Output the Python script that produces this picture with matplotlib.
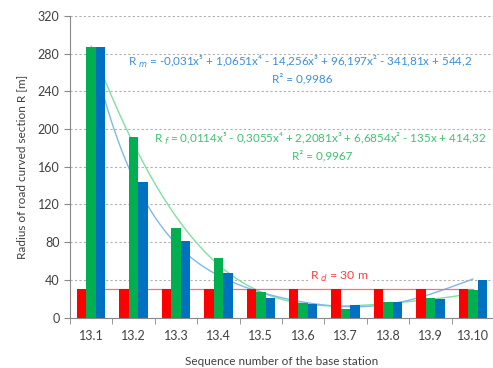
import matplotlib.pyplot as plt
import numpy as np

plt.rcParams['font.family'] = ['Lato', 'DejaVu Sans']

####################
stations = ['13.1', '13.2', '13.3', '13.4', '13.5', '13.6', '13.7', '13.8', '13.9', '13.10']
r_d = [30, 30, 30, 30, 30, 30, 30, 30, 30, 30]
r_f = [287, 191, 95, 63, 27, 15, 9, 17, 21, 29]
r_m = [287, 144, 81, 47, 21, 14, 13, 16, 20, 40]

# trend line coefficients, highest power first
coef_m = [-0.031, 1.0651, -14.256, 96.197, -341.81, 544.2]
coef_f = [0.0114, -0.3055, 2.2081, 6.6854, -135, 414.32]
rd_level = 30
####################

fig = plt.figure(figsize=(4.93, 3.68), dpi=100)
ax = fig.add_axes([0.142, 0.137, 0.86, 0.82])
ax.set_axisbelow(True)

x = np.arange(len(stations))
w = 0.224
ax.bar(x - w, r_d, w, color='#ff0000', zorder=2)
ax.bar(x, r_f, w, color='#00b050', zorder=2)
ax.bar(x + w, r_m, w, color='#0070c0', zorder=2)

### trend lines (x = 1..10 on category centres), drawn under the bars
xs = np.linspace(1, len(stations), 300)
ax.plot(xs - 1, np.polyval(coef_f, xs), color='#80e0a0', lw=1, zorder=1.5)
ax.plot(xs - 1, np.polyval(coef_m, xs), color='#80b8e8', lw=1, zorder=1.5)
ax.plot([0, len(stations) - 1], [rd_level, rd_level], color='#ff7070', lw=0.9, zorder=1.5)

### labels
fs = 8.4
blue_t = '#3c8fd6'
green_t = '#40c070'
ax.text(0.86, 271, 'R$_{\\ m}$ = -0,031x⁵ + 1,0651x⁴ - 14,256x³ + 96,197x² - 341,81x + 544,2',
        color=blue_t, fontsize=fs, va='center', ha='left', zorder=4)
ax.text(4.98, 253, 'R² = 0,9986', color=blue_t, fontsize=fs, va='center', ha='center', zorder=4)
ax.text(1.47, 189, 'R$_{\\ f}$ = 0,0114x⁵ - 0,3055x⁴ + 2,2081x³ + 6,6854x² - 135x + 414,32',
        color=green_t, fontsize=fs, va='center', ha='left', zorder=4)
ax.text(5.45, 172, 'R² = 0,9967', color=green_t, fontsize=fs, va='center', ha='center', zorder=4)
ax.text(5.85, 43.5, 'R$_{\\ d}$ = 30 m', color='#ff4040', fontsize=8.8, va='center', ha='center',
        zorder=4, bbox=dict(facecolor='white', edgecolor='none', pad=1.5))

ax.set_xlim(-0.5, len(stations) - 0.5)
ax.set_ylim(0, 320)
ax.set_yticks(np.arange(0, 321, 40))
ax.set_xticks(x)
ax.set_xticklabels(stations)
ax.set_xticks(np.arange(-0.5, len(stations), 1), minor=True)
ax.tick_params(axis='x', which='major', length=0, labelsize=9, colors='#404040', pad=9)
ax.tick_params(axis='x', which='minor', length=4, color='#888888')
ax.tick_params(axis='y', length=4, color='#888888', labelsize=9, labelcolor='#404040')

ax.grid(axis='y', linestyle=(0, (2, 2)), color='#b0b0b0', lw=0.8)
for s in ['top', 'right']:
    ax.spines[s].set_visible(False)
ax.spines['left'].set_color('#888888')
ax.spines['bottom'].set_color('#888888')

ax.set_ylabel('Radius of road curved section R [m]', fontsize=8.5, color='#404040', labelpad=8)
ax.set_xlabel('Sequence number of the base station', fontsize=8.5, color='#404040', labelpad=10)

plt.savefig('out.png', dpi=100)
